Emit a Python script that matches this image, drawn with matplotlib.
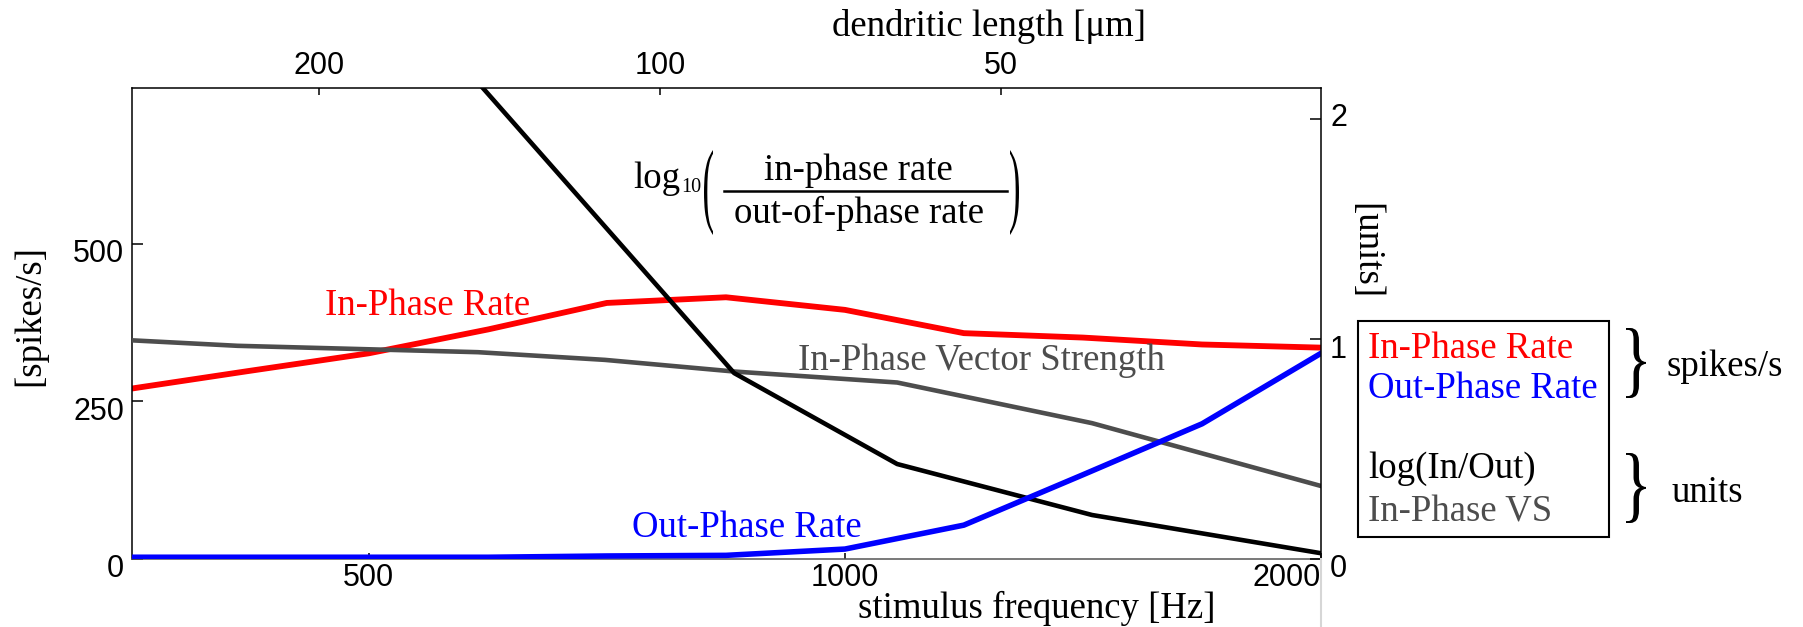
import matplotlib
matplotlib.use("Agg")
import matplotlib.pyplot as plt
from matplotlib.lines import Line2D
from matplotlib.patches import Rectangle, PathPatch
from matplotlib.textpath import TextPath
from matplotlib.font_manager import FontProperties
from matplotlib.transforms import Affine2D, ScaledTranslation
from matplotlib.ticker import NullLocator

plt.rcParams['font.family'] = ['Liberation Sans', 'DejaVu Sans']

# rates, quarter-octave frequency steps
freq_rate = [354, 420, 500, 595, 707, 841, 1000, 1189, 1414, 1682, 2000]
in_rate = [270, 298, 326, 364, 406, 415, 395, 358, 351, 340, 335]
out_rate = [2, 2, 2, 2, 4, 5, 15, 53, 133, 214, 326]

# unit-less curves
freq_vs = [354, 413, 586, 705, 851, 1079, 1433, 2000]
in_vs = [0.993, 0.968, 0.939, 0.904, 0.851, 0.801, 0.616, 0.330]
freq_log = [500, 851, 1079, 1433, 2000]
log_ratio = [2.73, 0.844, 0.43, 0.198, 0.024]

freq_ticks = [500, 1000, 2000]
rate_ticks = [0, 250, 500]
unit_ticks = [0, 1, 2]
length_ticks = [200, 100, 50]

W, H = 1803, 627
SERIF = 'Liberation Serif'
FS = 26.5
GRAY = '#4d4d4d'


def fx(x):
    return x / W


def fy(y):
    return 1 - y / H


fig = plt.figure(figsize=(W / 100, H / 100), dpi=100)
ax = fig.add_axes([fx(131.7), fy(558.5), fx(1321) - fx(131.7), fy(88.3) - fy(558.5)])
ax2 = ax.twinx()
ax3 = ax.twiny()

# rates (left axis)
ax.plot(freq_rate, in_rate, color='red', lw=4.2)
ax.set_xscale('log')
ax.set_xlim(354, 2000)
ax.set_ylim(0, 747)
ax.set_xticks(freq_ticks, labels=[str(t) for t in freq_ticks])
ax.xaxis.set_minor_locator(NullLocator())
ax.set_yticks(rate_ticks, labels=[str(t) for t in rate_ticks])
ax.tick_params(axis='x', direction='in', length=4.3, width=1.1, pad=3.2, labelsize=22)
ax.tick_params(axis='y', direction='in', length=7.9, width=1.1, pad=5.5, labelsize=22)
for lab in ax.get_yticklabels():
    lab.set_transform(lab.get_transform() + ScaledTranslation(0, -0.07, fig.dpi_scale_trans))
ax.get_xticklabels()[-1].set_ha('right')

# units (right axis)
ax2.plot(freq_vs, in_vs, color=GRAY, lw=3.3)
ax2.plot(freq_log, log_ratio, color='black', lw=3.3)
ax2.plot(freq_rate, out_rate, color='blue', lw=4.0, transform=ax.transData)
ax2.set_ylim(0, 2.14)
ax2.set_yticks(unit_ticks, labels=[str(t) for t in unit_ticks])
ax2.tick_params(axis='y', direction='in', length=7.9, width=1.1, pad=6.5, labelsize=22)
for lab, dy in zip(ax2.get_yticklabels(), [-0.07, -0.08, 0.05]):
    lab.set_transform(lab.get_transform() + ScaledTranslation(0, dy, fig.dpi_scale_trans))

# dendritic length (top axis)
ax3.set_xscale('log')
ax3.set_xlim(292.4, 26.1)
ax3.set_xticks(length_ticks, labels=[str(t) for t in length_ticks])
ax3.xaxis.set_minor_locator(NullLocator())
ax3.tick_params(axis='x', direction='in', length=5, width=1.1, pad=5, labelsize=22)

for a in (ax, ax2, ax3):
    for s in a.spines.values():
        s.set_visible(False)
        s.set_linewidth(1.1)
ax.spines['left'].set_visible(True)
ax.spines['bottom'].set_visible(True)
ax.spines['bottom'].set_color('#555555')
ax2.spines['right'].set_visible(True)
ax3.spines['top'].set_visible(True)

fig.add_artist(Line2D([fx(1321)] * 2, [fy(559), fy(627)], color='#d6d6d6', lw=1.5))


def label(x, y, s, color='black', size=FS, **kw):
    fig.text(fx(x), fy(y), s, color=color, fontsize=size, family=SERIF,
             va=kw.pop('va', 'baseline'), ha=kw.pop('ha', 'left'), **kw)


serif_fp = FontProperties(family=SERIF)


def stretched(ch, x0, y0, x1, y1):
    p = TextPath((0, 0), ch, size=40, prop=serif_fp)
    bb = p.get_extents()
    tr = (Affine2D().translate(-bb.x0, -bb.y0)
          .scale((x1 - x0) / bb.width, (y1 - y0) / bb.height)
          .translate(x0, H - y1))
    fig.add_artist(PathPatch(p, transform=tr, fc='black', lw=0))


# axis titles
label(832, 36, 'dendritic length [\u03bcm]')
label(858, 618, 'stimulus frequency [Hz]')
label(30, 316, '[spikes/s]', rotation=90, va='center', ha='center')
label(1366, 251, '[units]', rotation=270, va='center', ha='center')

# curve labels
label(325, 315, 'In-Phase Rate', color='red')
label(632, 537, 'Out-Phase Rate', color='blue')
label(798, 370, 'In-Phase Vector Strength', color=GRAY)

# log10( in / out ) formula
label(633, 188.3, 'log')
label(681, 192, '10', size=14.5)
label(858, 180, 'in-phase rate', ha='center')
label(859, 223.3, 'out-of-phase rate', ha='center')
fig.add_artist(Line2D([fx(724), fx(1006.7)], [fy(191)] * 2, color='black', lw=1.8))
stretched('(', 704, 150, 713, 235)
stretched(')', 1010, 150, 1019, 235)

# legend box
fig.add_artist(Rectangle((fx(1358), fy(537.3)), fx(1608.5) - fx(1358), fy(320.7) - fy(537.3),
                         fill=False, ec='black', lw=1.5))
label(1368, 358.3, 'In-Phase Rate', color='red')
label(1368, 398.3, 'Out-Phase Rate', color='blue')
label(1368, 478.3, 'log(In/Out)')
label(1368, 521.7, 'In-Phase VS', color=GRAY)
stretched('}', 1626, 328, 1646, 398)
stretched('}', 1626, 453, 1646, 523)
label(1666, 376, 'spikes/s')
label(1672, 501.7, 'units')

fig.savefig('out.png', dpi=100)
